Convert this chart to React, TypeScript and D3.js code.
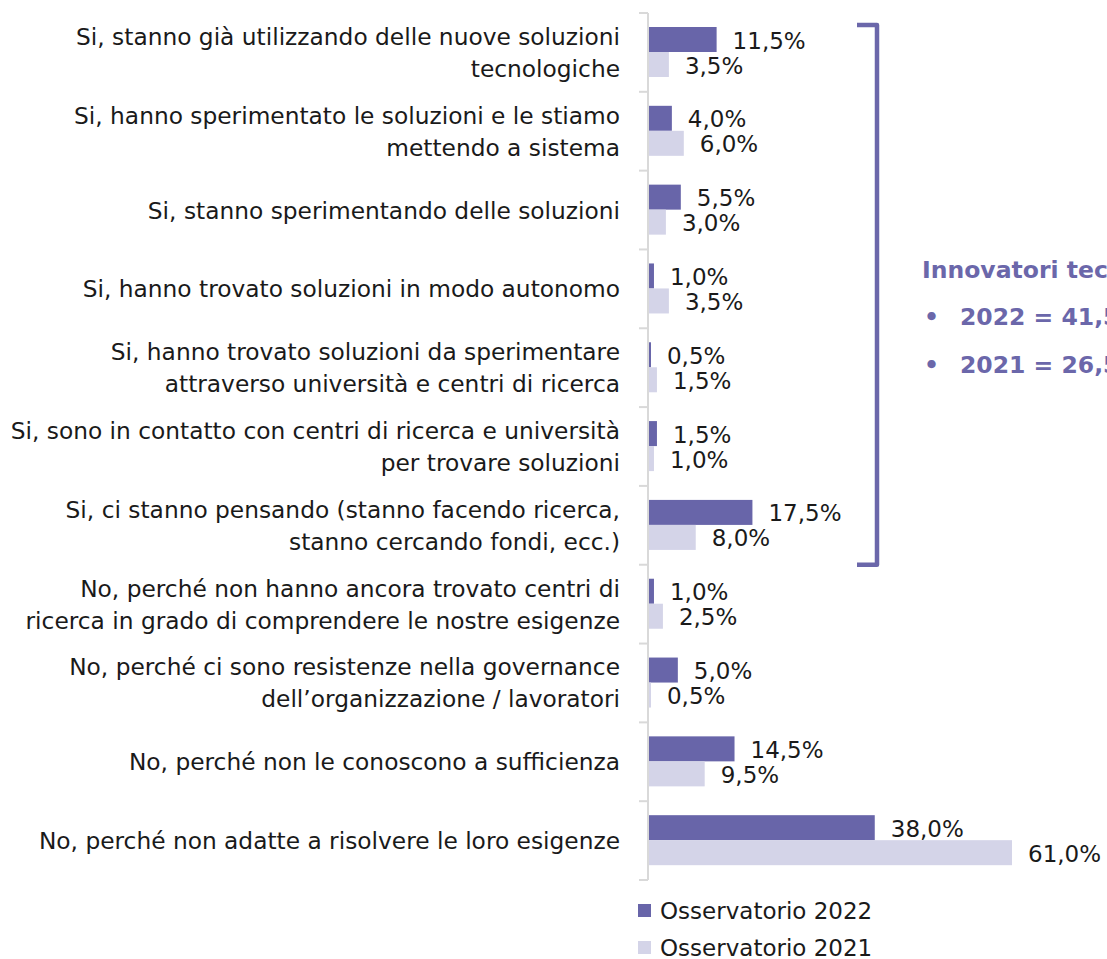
import React from 'react';
import * as d3 from 'd3';

const categories = [
  'Si, stanno già utilizzando delle nuove soluzioni|tecnologiche',
  'Si, hanno sperimentato le soluzioni e le stiamo|mettendo a sistema',
  'Si, stanno sperimentando delle soluzioni',
  'Si, hanno trovato soluzioni in modo autonomo',
  'Si, hanno trovato soluzioni da sperimentare|attraverso università e centri di ricerca',
  'Si, sono in contatto con centri di ricerca e università|per trovare soluzioni',
  'Si, ci stanno pensando (stanno facendo ricerca,|stanno cercando fondi, ecc.)',
  'No, perché non hanno ancora trovato centri di|ricerca in grado di comprendere le nostre esigenze',
  'No, perché ci sono resistenze nella governance|dell’organizzazione / lavoratori',
  'No, perché non le conoscono a sufficienza',
  'No, perché non adatte a risolvere le loro esigenze',
];

const values2022 = [11.5, 4.0, 5.5, 1.0, 0.5, 1.5, 17.5, 1.0, 5.0, 14.5, 38.0];
const values2021 = [3.5, 6.0, 3.0, 3.5, 1.5, 1.0, 8.0, 2.5, 0.5, 9.5, 61.0];

const seriesNames = ['Osservatorio 2022', 'Osservatorio 2021'];
const seriesColors = ['#6865A9', '#D4D4E8'];

const sideTitle = 'Innovatori tecnologici';
const sideLines = ['2022 = 41,5%', '2021 = 26,5%'];

const FONT = '"DejaVu Sans", sans-serif';
const PURPLE = '#6B67AA';

const fmt = (v: number) => v.toFixed(1).replace('.', ',') + '%';

export default function App() {
  const width = 1107;
  const height = 959;

  const x = d3.scaleLinear().domain([0, 61]).range([648, 1012]);
  const y = d3.scaleBand<number>().domain(d3.range(categories.length)).range([13, 880]);
  const inner = d3.scaleBand<number>().domain([0, 1]).range([14, 64]);

  const series = [values2022, values2021];
  const step = y.step();
  const bracketTop = (y(0) as number) + 12;
  const bracketBottom = (y(6) as number) + step;

  return (
    <div style={{ position: 'absolute', left: 0, top: 0 }}>
      <svg width={width} height={height} style={{ display: 'block', fontFamily: FONT }}>
        <rect width={width} height={height} fill="#fff" />

        {/* category labels */}
        {categories.map((c, i) => {
          const lines = c.split('|');
          const cy = (y(i) as number) + step / 2;
          return (
            <text key={'c' + i} textAnchor="end" fontSize={23.3} fill="#1a1a1a">
              {lines.map((l, j) => (
                <tspan key={j} x={620} y={cy + (j - (lines.length - 1) / 2) * 32} dominantBaseline="central">
                  {l}
                </tspan>
              ))}
            </text>
          );
        })}

        {/* bars */}
        {series.map((vals, s) =>
          vals.map((v, i) => (
            <rect
              key={`b${s}-${i}`}
              x={x(0)}
              y={(y(i) as number) + (inner(s) as number)}
              width={x(v) - x(0)}
              height={inner.bandwidth()}
              fill={seriesColors[s]}
            />
          ))
        )}

        {/* axis */}
        <line x1={x(0)} x2={x(0)} y1={y.range()[0]} y2={y.range()[1]} stroke="#d9d9d9" strokeWidth={2} />
        {d3.range(categories.length + 1).map((i) => {
          const ty = y.range()[0] + i * step;
          return <line key={'t' + i} x1={x(0) - 9} x2={x(0)} y1={ty} y2={ty} stroke="#d9d9d9" strokeWidth={2} />;
        })}

        {/* value labels */}
        {series.map((vals, s) =>
          vals.map((v, i) => (
            <text
              key={`l${s}-${i}`}
              x={x(v) + 16}
              y={(y(i) as number) + (inner(s) as number) + inner.bandwidth() / 2 + 1}
              dominantBaseline="central"
              fontSize={23}
              fill="#1a1a1a"
            >
              {fmt(v)}
            </text>
          ))
        )}

        {/* bracket */}
        <path
          d={`M857,${bracketTop} L877,${bracketTop} L877,${bracketBottom} L857,${bracketBottom}`}
          fill="none"
          stroke={PURPLE}
          strokeWidth={4.5}
          strokeLinejoin="round"
        />
        <text x={922} y={270} dominantBaseline="central" fontSize={23.5} fontWeight="bold" fill={PURPLE}>
          {sideTitle}
        </text>
        {sideLines.map((t, i) => (
          <g key={'s' + i} fill={PURPLE} fontSize={23.5} fontWeight="bold">
            <text x={924} y={317 + i * 48} dominantBaseline="central">•</text>
            <text x={960} y={317 + i * 48} dominantBaseline="central">{t}</text>
          </g>
        ))}

        {/* legend */}
        {seriesNames.map((n, i) => (
          <g key={'g' + i}>
            <rect x={638} y={904 + i * 37} width={13} height={13} fill={seriesColors[i]} />
            <text x={660} y={911 + i * 37} dominantBaseline="central" fontSize={23} fill="#1a1a1a">
              {n}
            </text>
          </g>
        ))}
      </svg>
    </div>
  );
}
